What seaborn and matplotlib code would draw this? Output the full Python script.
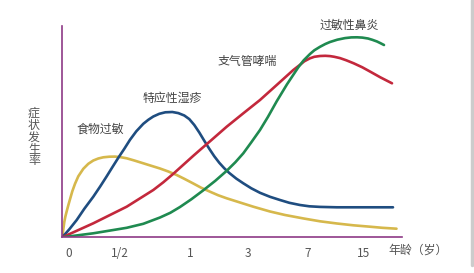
import matplotlib
matplotlib.use("Agg")
import matplotlib.pyplot as plt
from matplotlib.lines import Line2D
import seaborn as sns
import pandas as pd

# ---- data (schematic curves) ----
food_x = [0, 1, 2, 3, 4.4, 6, 7.7, 10, 12.7, 16, 21, 26, 31, 36, 41, 47, 52.7, 58, 64.4,
          72, 81, 89, 97.7, 106, 114.4, 122, 131, 139, 147.7, 156, 164.4, 177.7, 191,
          207.7, 222.7, 241.4, 257.7, 274.7, 291, 307.7, 320, 334.2]
food_y = [0, 8, 15.3, 20.5, 26, 32, 38, 46, 53.5, 61, 68.5, 73.5, 76.8, 78.8, 80, 80.6,
          80.7, 80.2, 79, 76.8, 74, 71.5, 68.8, 65.8, 62.3, 58.5, 53.8, 49.5, 45.6, 42,
          39, 34.8, 30.6, 25.8, 22.3, 18.8, 16, 13.8, 12, 10.6, 9.5, 8.6]

eczema_x = [0, 7, 14.4, 22, 31, 38, 44.4, 50, 56, 62, 67.7, 74, 81, 86, 91, 97, 103, 110,
            116, 122, 127, 132, 137, 142, 147, 152, 157, 162, 167, 174, 181, 189, 197.7,
            207.7, 217.7, 227, 237.7, 247, 257.7, 274.7, 300, 330.7]
eczema_y = [0, 8, 17.3, 28.5, 40.6, 51, 61, 70, 79.5, 88.5, 97.5, 106, 113.5, 117.5, 120.8,
            123.5, 125, 125.3, 124.2, 121.8, 118.2, 112.3, 104.8, 96.5, 88.5, 81, 74.5, 69,
            64.3, 58.7, 54, 49, 44.5, 40.5, 37.3, 34.5, 32.3, 31, 30.4, 30, 30, 30]

asthma_x = [0, 31, 64.4, 91, 101, 111, 121, 131, 139, 147.7, 164.4, 181, 197.7, 214.4,
            231, 237.7, 242, 247.7, 252, 257.7, 263, 267.7, 272, 277.7, 284, 291.4, 300,
            308, 318, 329.7]
asthma_y = [0, 14, 30.6, 47.3, 55, 63.5, 72.5, 81.5, 88.5, 96, 110.6, 124, 137.3, 152.3,
            167.3, 172.5, 176, 179, 180.5, 181.3, 181.5, 181.2, 180.5, 179.2, 177, 174, 170,
            165.6, 160, 154]

rhinitis_x = [0, 31, 64.4, 81, 97.7, 108, 117.7, 129, 141, 153, 164.4, 173, 181, 189,
              197.7, 205.7, 214.4, 224.7, 231, 236, 241.4, 247.7, 252, 257.7, 263, 267.7,
              275, 282.7, 289, 294.7, 300, 305.7, 310, 314.7, 318, 321.7]
rhinitis_y = [0, 4, 9.5, 13.5, 19.8, 24.5, 30.3, 38, 47, 56.5, 66.5, 75, 84, 95, 107.3,
              120.5, 136, 153, 162.5, 170, 177, 183.3, 187, 190.5, 193.3, 195.3, 197.6,
              199.2, 199.9, 200, 199.7, 198.8, 197.5, 195.8, 194.2, 192.3]

series_names = ["食物过敏", "特应性湿疹", "支气管哮喘", "过敏性鼻炎"]
tick_labels = ["0", "1/2", "1", "3", "7", "15"]
tick_pos = [6, 57.7, 127.7, 185.4, 245, 301]
y_label = "症状发生率"
x_label = "年龄（岁）"

colors = ["#d6b84c", "#1f4d80", "#c3283c", "#1f8a50"]

frames = []
for name, xs, ys in zip(series_names,
                        [food_x, eczema_x, asthma_x, rhinitis_x],
                        [food_y, eczema_y, asthma_y, rhinitis_y]):
    frames.append(pd.DataFrame({"x": xs, "y": ys, "series": name}))
df = pd.concat(frames, ignore_index=True)

sns.set_theme(style="white")
plt.rcParams["font.family"] = ["Noto Sans CJK SC", "DejaVu Sans"]

W, H = 474, 273
fig = plt.figure(figsize=(W / 100, H / 100), dpi=100, facecolor="white")
ax = fig.add_axes([62.3 / W, (H - 237.3) / H, (402 - 62.3) / W, (237.3 - 26) / H])

sns.lineplot(data=df, x="x", y="y", hue="series", hue_order=series_names,
             palette=colors, sort=False, estimator=None, units="series",
             linewidth=1.9, legend=False, ax=ax)
for ln in ax.lines:
    ln.set_solid_joinstyle("round")
    ln.set_solid_capstyle("round")

ax.set_xlim(0, 339.7)
ax.set_ylim(0, 211.3)
ax.set_xlabel("")
ax.set_ylabel("")
ax.set_yticks([])
ax.set_xticks(tick_pos)
ax.set_xticklabels(tick_labels)
ax.tick_params(axis="x", length=0, pad=7, labelsize=8.5, labelcolor="#555555")

purple = "#8e3a86"
for s in ["top", "right"]:
    ax.spines[s].set_visible(False)
for s in ["left", "bottom"]:
    ax.spines[s].set_color(purple)
    ax.spines[s].set_linewidth(1.2)

txt_color = "#444444"
fs = 8.6
label_centers = [(100.5, 129), (172.5, 98), (247, 62), (349, 25)]
for name, (px, py) in zip(series_names, label_centers):
    fig.text(px / W, 1 - py / H, name, ha="center", va="center",
             fontsize=fs, color=txt_color)

fig.text(34 / W, 1 - 137 / H, "\n".join(y_label), ha="center", va="center",
         fontsize=fs, color="#555555", linespacing=0.88)
fig.text(418 / W, 1 - 250 / H, x_label, ha="center", va="center",
         fontsize=fs, color="#555555")

fig.add_artist(Line2D([471.5 / W, 471.5 / W], [0.03, 1], transform=fig.transFigure,
                      color="#cccccc", linewidth=2.5))

fig.savefig("out.png", dpi=100, facecolor="white")
